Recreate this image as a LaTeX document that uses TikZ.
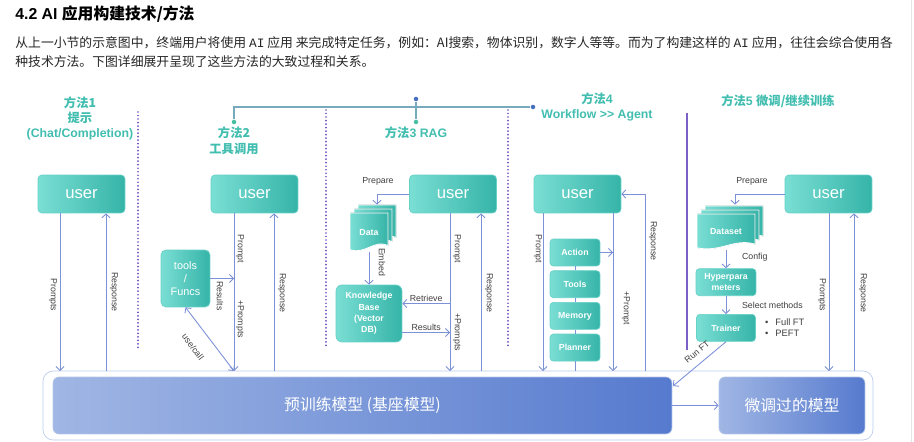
\documentclass[tikz,border=0pt]{standalone}
\usepackage{fontspec}
\setmainfont{Liberation Sans}
\setmonofont{Liberation Mono}
\newfontfamily\cjk{Noto Sans CJK SC}
\usetikzlibrary{arrows.meta,calc,positioning}

\definecolor{tealL}{RGB}{122,222,212}
\definecolor{tealR}{RGB}{54,180,168}
\definecolor{titlec}{RGB}{66,190,176}
\definecolor{blueL}{RGB}{160,182,228}
\definecolor{blueR}{RGB}{86,122,206}
\definecolor{flowc}{RGB}{125,145,215}
\definecolor{sepc}{RGB}{108,78,190}
\definecolor{linkc}{RGB}{120,170,190}
\definecolor{dotb}{RGB}{70,110,190}
\definecolor{dott}{RGB}{70,190,160}

% one page of a document stack: left, top, width, height (px)
\newcommand{\docpage}[4]{%
  \fill[left color=tealL, right color=tealR, draw=white, line width=0.5pt]
    (#1,#2) -- (#1+#3,#2) -- (#1+#3,#2+0.84*#4)
    .. controls (#1+0.65*#3,#2+0.66*#4) and (#1+0.4*#3,#2+1.08*#4) .. (#1,#2+0.94*#4) -- cycle;}

\begin{document}
\begin{tikzpicture}[x=0.02cm, y=-0.02cm, >={Straight Barb[length=2.2pt,width=4.6pt]}]
  % Styles
  \tikzstyle{user} = [rectangle, rounded corners=0.08cm, left color=tealL, right color=tealR, draw=tealL!70!tealR, text=white, minimum width=1.74cm, minimum height=0.76cm, inner sep=0pt, font=\fontsize{9.5}{11}\selectfont]
  \tikzstyle{tbox} = [rectangle, rounded corners=0.07cm, left color=tealL, right color=tealR, draw=tealL!70!tealR, text=white, inner sep=0pt, align=center, font=\bfseries\fontsize{5}{6.4}\selectfont]
  \tikzstyle{agent} = [tbox, minimum width=1cm, minimum height=0.54cm]
  \tikzstyle{doc} = [inner sep=0pt, text=white, font=\bfseries\fontsize{5}{6}\selectfont]
  \tikzstyle{basebox} = [rectangle, rounded corners=0.12cm, left color=blueL, right color=blueR, draw=blueL!80!white, text=white, minimum height=1.14cm, inner sep=0pt, font=\cjk\fontsize{9}{11}\selectfont]
  \tikzstyle{mtitle} = [text=titlec, align=center, inner sep=0pt, font=\bfseries\fontsize{7}{8.5}\selectfont]
  \tikzstyle{lbl} = [text=black!75, inner sep=1pt, font=\fontsize{5}{6}\selectfont]
  \tikzstyle{vlbl} = [lbl, rotate=-90]
  \tikzstyle{flow} = [draw=flowc, line width=0.5pt, ->]
  \tikzstyle{divider} = [draw=sepc, line width=1.1pt, dash pattern=on 0pt off 2pt, line cap=round]
  \tikzstyle{jdot} = [circle, inner sep=0pt, minimum size=0.09cm]

  \fill[white] (0,0) rectangle (914,442);
  \useasboundingbox (0,0) rectangle (914,442);
  \draw[black!10] (911,0) -- (911,442);

  % Heading and text
  \node[anchor=west, inner sep=0pt, font=\bfseries\fontsize{9}{11}\selectfont] (head) at (15,14) {4.2 AI {\cjk 应用构建技术/方法}};
  \node[anchor=west, inner sep=0pt, text=black!85, font=\cjk\fontsize{7.3}{9}\selectfont] (para1) at (15,43) {从上一小节的示意图中，终端用户将使用 \texttt{AI} 应用 来完成特定任务，例如：AI搜索，物体识别，数字人等等。而为了构建这样的 \texttt{AI} 应用，往往会综合使用各};
  \node[anchor=west, inner sep=0pt, text=black!85, font=\cjk\fontsize{7.3}{9}\selectfont] (para2) at (15,62) {种技术方法。下图详细展开呈现了这些方法的大致过程和关系。};

  % Titles
  \node[mtitle] (t1) at (80,118) {{\cjk 方法1}\\{\cjk 提示}\\(Chat/Completion)};
  \node[mtitle, font=\cjk\bfseries\fontsize{7}{9}\selectfont] (t2) at (234,141) {方法2\\工具调用};
  \node[mtitle] (t3) at (416,133) {{\cjk 方法}3 RAG};
  \node[mtitle] (t4) at (597,107) {{\cjk 方法}4\\Workflow >{}> Agent};
  \node[mtitle] (t5) at (778,101) {{\cjk 方法}5 {\cjk 微调/继续训练}};

  % Link between methods
  \node[jdot, fill=dott] (d2) at (234,122) {};
  \node[jdot, fill=dott] (d3) at (416,122) {};
  \node[jdot, fill=dotb] (d3t) at (416,99) {};
  \node[jdot, fill=dotb] (d4) at (533,107) {};
  \draw[linkc, line width=0.6pt] (d2) |- (d4);
  \draw[linkc, line width=0.6pt] (d3t) -- (d3);

  % Separators
  \draw[divider] (138,112) -- (138,348);
  \draw[divider] (326,110) -- (326,348);
  \draw[divider] (508,110) -- (508,348);
  \draw[draw=sepc!90, line width=1pt] (687,113) -- (687,350);

  % Base models
  \node[draw=blueL!70!white, rounded corners=0.2cm, fill=white, minimum width=16.6cm, minimum height=1.38cm] (outer) at (458,405.5) {};
  \node[basebox, minimum width=12.38cm] (ptm) at (362.5,405.5) {预训练模型 (基座模型)};
  \node[basebox, minimum width=2.92cm] (ftm) at (792,405.5) {微调过的模型};
  \draw[flow] (ptm) -- (ftm);

  \coordinate (p1) at (60,371);
  \coordinate (r1) at (106,371);
  \coordinate (p2) at (234,371);
  \coordinate (r2) at (274,371);
  \coordinate (p3) at (450,371);
  \coordinate (r3) at (481,371);
  \coordinate (p4) at (543,371);
  \coordinate (q4) at (613,371);
  \coordinate (r4) at (645,371);
  \coordinate (p5) at (829,371);
  \coordinate (r5) at (854,371);
  \coordinate (runft) at (673,386);

  % Users
  \node[user] (u1) at (81.5,194) {user};
  \node[user] (u2) at (254.5,194) {user};
  \node[user] (u3) at (453,194) {user};
  \node[user] (u4) at (577.5,194) {user};
  \node[user] (u5) at (828.5,194) {user};

  % Method 1
  \draw[flow] (u1.south -| p1) -- (p1);
  \draw[flow] (r1) -- (u1.south -| r1);
  \node[vlbl] (lp1) at (53,295) {Prompts};
  \node[vlbl] (lr1) at (114,292) {Response};

  % Method 2
  \node[tbox, minimum width=0.98cm, minimum height=1.14cm, rounded corners=0.1cm, font=\fontsize{6.2}{7.6}\selectfont] (tools) at (185.5,278.5) {tools\\/\\Funcs};
  \draw[flow] (u2.south -| p2) -- (p2);
  \draw[flow] (tools.east) -- (tools.east -| p2);
  \draw[flow, <->] (tools.south) -- (p2);
  \draw[flow] (r2) -- (u2.south -| r2);
  \node[vlbl] (lp2) at (240,249) {Prompt};
  \node[vlbl] (lpp2) at (240,319) {+Prompts};
  \node[vlbl] (lres2) at (220,296) {Results};
  \node[vlbl] (lr2) at (282,293) {Response};
  \node[lbl, rotate=-53] (luse) at (193,347) {use/call};

  % Method 3
  \foreach \o in {8,4,0} {\docpage{350+\o}{213-\o}{38}{39}}
  \node[doc, minimum width=0.76cm, minimum height=0.78cm] (data) at (369,232.5) {Data};
  \node[tbox, minimum width=1.32cm, minimum height=1.14cm, rounded corners=0.12cm] (kb) at (369,313.5) {Knowledge\\Base\\(Vector\\DB)};
  \draw[flow] (u3.west) -| ($(data.north)+(8,-8)$);
  \node[lbl] (lprep3) at (378,181) {Prepare};
  \draw[flow] (data.south) -- (kb.north);
  \node[vlbl] (lemb) at (382,262) {Embed};
  \coordinate (kbr) at ($(kb.east)+(0,-10)$);
  \coordinate (kbs) at ($(kb.east)+(0,19)$);
  \draw[flow] (u3.south -| p3) -- (p3);
  \draw[flow] (kbr -| p3) -- (kbr) node[lbl, midway, above] (lret) {Retrieve};
  \draw[flow] (kbs) -- (kbs -| p3) node[lbl, midway, above] (lres3) {Results};
  \draw[flow] (r3) -- (u3.south -| r3);
  \node[vlbl] (lp3) at (457,249) {Prompt};
  \node[vlbl] (lpp3) at (457,332) {+Prompts};
  \node[vlbl] (lr3) at (489,293) {Response};

  % Method 4
  \node[agent] (act) at (575,252.5) {Action};
  \node[agent, below=0.08cm of act] (tls) {Tools};
  \node[agent, below=0.08cm of tls] (mem) {Memory};
  \node[agent, below=0.08cm of mem] (pln) {Planner};
  \draw[flowc, line width=0.5pt] (act) -- (tls) (tls) -- (mem) (mem) -- (pln) (pln.south) -- (pln.south |- p4);
  \draw[flow] (u4.south -| p4) -- (p4);
  \draw[flow] (u4.south -| q4) -- (q4);
  \draw[flow] (act.east) -- (act.east -| q4);
  \draw[flow] (r4) |- (u4.east);
  \node[vlbl] (lp4) at (538,249) {Prompt};
  \node[vlbl] (lpp4) at (626,308) {+Prompt};
  \node[vlbl] (lr4) at (653,241) {Response};

  % Method 5
  \foreach \o in {8,4,0} {\docpage{697+\o}{214-\o}{58}{36}}
  \node[doc, minimum width=1.16cm, minimum height=0.72cm] (ds) at (726,232) {Dataset};
  \node[tbox, minimum width=1.2cm, minimum height=0.54cm, below=0.36cm of ds] (hp) {Hyperpara\\meters};
  \node[tbox, minimum width=1.18cm, minimum height=0.54cm, below=0.36cm of hp] (tr) {Trainer};
  \draw[flow] (u5.west) -| ($(ds.north)+(9,-9)$);
  \node[lbl] (lprep5) at (752,181) {Prepare};
  \draw[flow] (ds.south) -- (hp.north);
  \node[lbl, anchor=west] (lcfg) at (740,257) {Config};
  \draw[flow] (hp.south) -- (tr.north);
  \node[lbl, anchor=west] (lsel) at (740,305) {Select methods};
  \node[lbl, anchor=west, align=left, font=\fontsize{5.3}{6.2}\selectfont] (ftl) at (763,327.5) {\textbullet\hspace{4pt}Full FT\\\textbullet\hspace{4pt}PEFT};
  \draw[flow] (tr.south) -- (runft);
  \node[lbl, rotate=40] (lrun) at (697,352) {Run FT};
  \draw[flow] (u5.south -| p5) -- (p5);
  \draw[flow] (r5) -- (u5.south -| r5);
  \node[vlbl] (lp5) at (822,295) {Prompts};
  \node[vlbl] (lr5) at (863,293) {Response};

\end{tikzpicture}
\end{document}
